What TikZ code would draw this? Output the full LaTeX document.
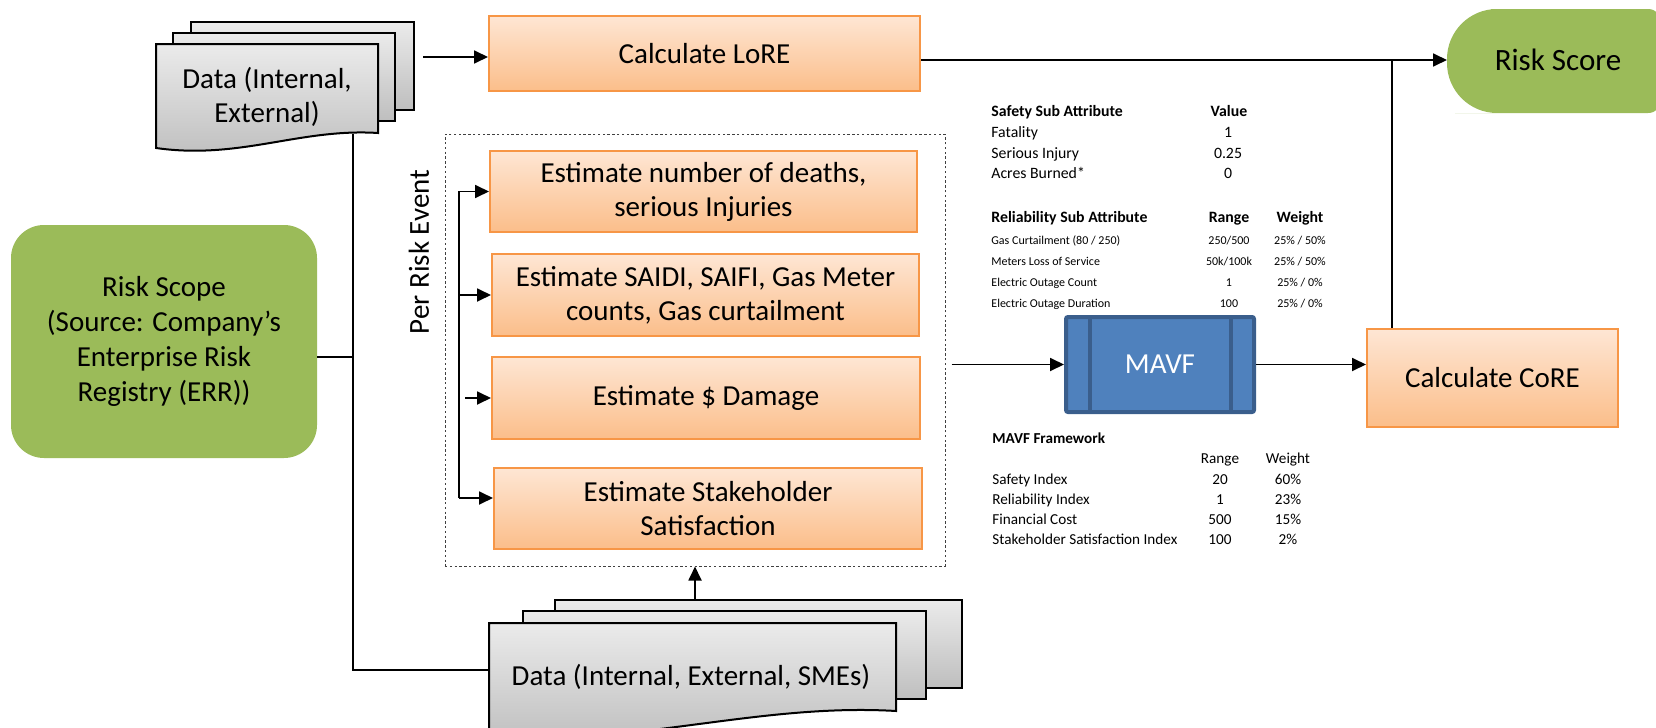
\documentclass[tikz,border=0pt]{standalone}
\usepackage{fontspec}
\setmainfont{Carlito}
\usetikzlibrary{arrows.meta,calc}
\definecolor{grn}{HTML}{9BBB59}
\definecolor{orTop}{HTML}{FEE6D4}
\definecolor{orBot}{HTML}{FBBE8A}
\definecolor{orBd}{HTML}{F79646}
\definecolor{mvFill}{HTML}{4F81BD}
\definecolor{mvBd}{HTML}{3A5E8C}
\definecolor{dcTop}{HTML}{EBEBEB}
\definecolor{dcBot}{HTML}{BEBEBE}
\newcommand\mainfs{\fontsize{14.5}{17}\selectfont}
\newcommand\tabfs{\fontsize{7.9}{9.5}\selectfont}
\newcommand\tinyfs{\fontsize{6}{7}\selectfont}
\newcommand\mavffs{\fontsize{7.6}{9}\selectfont}
\begin{document}
\begin{tikzpicture}[x=0.5pt,y=-0.5pt,
  conn/.style={line width=0.9pt,draw=black},
  arr/.style={conn,-{Triangle[length=7pt,width=6.5pt]}},
  obox/.style={draw=orBd,line width=1pt,top color=orTop,bottom color=orBot,align=center,font=\mainfs,inner sep=0pt},
  gbox/.style={fill=grn,align=center,font=\mainfs,inner sep=0pt},
  doc/.style={draw=black,line width=1pt,top color=dcTop,bottom color=dcBot},
  tab/.style={inner sep=0pt,text height=0.72em,text depth=0.2em},
  lab/.style={tab,anchor=west}]
\useasboundingbox (0,0) rectangle (1656,728);

% ---- top document stack
\draw[doc] (191,22) rectangle (414,110);
\draw[doc] (173,33) rectangle (395,121);
\draw[doc] (156,44) -- (378,44) -- (378,133) .. controls (300,128) and (240,160) .. (156,148) -- cycle;
\node[font=\mainfs,align=center] (d1txt) at (267,97) {Data (Internal,\\External)};
\coordinate (d1out) at (423,57);
\coordinate (d1bot) at (353,134);

% ---- bottom document stack
\draw[doc] (555,600) rectangle (962,688);
\draw[doc] (523,611) rectangle (926,699);
\draw[doc] (489,623) -- (896,623) -- (896,711) .. controls (760,703) and (640,745) .. (489,738) -- cycle;
\node[font=\mainfs] (d2txt) at (691,677) {Data (Internal, External, SMEs)};
\coordinate (d2top) at (695,600);
\coordinate (d2in) at (489,670);

% ---- main nodes
\node[obox,minimum width=215.5pt,minimum height=37.5pt] (lore) at (704.5,53.5) {Calculate LoRE};
\fill[grn,rounded corners=25pt] (1505,9) -- (1447,9) -- (1447,113) -- (1505,113)
  [rounded corners=7pt] -- (1662,113) -- (1662,9) -- cycle;
\node[inner sep=0pt,font=\fontsize{15.5}{18}\selectfont] (risk) at (1558,60) {Risk Score};
\coordinate (riskin) at (1447,60);
\node[gbox,rounded corners=16.5pt,minimum width=153pt,minimum height=116.5pt,font=\fontsize{14.5}{17.5}\selectfont] (scope) at (164,341.5)
  {Risk Scope\\(Source: Company’s\\Enterprise Risk\\Registry (ERR))};

\node[draw=black!75,line width=0.5pt,dash pattern=on 1.2pt off 1.2pt,minimum width=250pt,minimum height=216pt,inner sep=0pt] (evt) at (695,350) {};
\node[font=\mainfs,rotate=90] (per) at (419,252) {Per Risk Event};

\node[obox,minimum width=213.5pt,minimum height=40.5pt] (b1) at (703.5,191.5) {Estimate number of deaths,\\serious Injuries};
\node[obox,minimum width=213.5pt,minimum height=41pt] (b2) at (705.5,295) {Estimate SAIDI, SAIFI, Gas Meter\\counts, Gas curtailment};
\node[obox,minimum width=214pt,minimum height=41pt] (b3) at (706,398) {Estimate \$ Damage};
\node[obox,minimum width=214pt,minimum height=40.5pt] (b4) at (708,508.5) {Estimate Stakeholder\\Satisfaction};

\node[fill=mvFill,draw=mvBd,line width=2pt,rounded corners=1pt,minimum width=94pt,minimum height=47.5pt,inner sep=0pt,
  font=\mainfs,text=white] (mavf) at (1160,364.5) {MAVF};
\draw[mvBd,line width=2pt] ([xshift=13pt]mavf.north west) -- ([xshift=13pt]mavf.south west);
\draw[mvBd,line width=2pt] ([xshift=-12.5pt]mavf.north east) -- ([xshift=-12.5pt]mavf.south east);

\node[obox,minimum width=125.5pt,minimum height=49pt] (core) at (1492.5,378) {Calculate CoRE};

% ---- connectors
\draw[arr] (d1out) -- (d1out -| lore.west);
\draw[arr] (lore.east |- riskin) -- (riskin);
\coordinate (j) at (1392,60);
\draw[conn] (j) -- (j |- core.north);
\draw[conn] (d1bot) -- (d1bot |- d2in) -- (d2in);
\draw[conn] ([yshift=-7.75pt]scope.east) -- ([yshift=-7.75pt]scope.east -| d1bot);
\draw[arr] (d2top) -- (d2top |- evt.south);
\coordinate (bt) at (459,191.5);
\coordinate (bb) at (459,498);
\draw[arr] (bb) -- (bt) -- (b1.west);
\draw[arr] (b2.west -| bt) -- (b2.west);
\draw[arr] ([xshift=-13pt]b3.west) -- (b3.west);
\draw[arr] (bb) -- (bb -| b4.west);
\draw[arr] ([xshift=3pt]evt.east |- mavf.west) -- (mavf.west);
\draw[arr] (mavf.east) -- (mavf.east -| core.west);

% ---- safety table
\node[lab,font=\tabfs\bfseries] (s0) at (991,111) {Safety Sub Attribute};
\node[tab,font=\tabfs\bfseries] (s0v) at (1229,111) {Value};
\node[lab,font=\tabfs] (s1) at (991,132) {Fatality};
\node[tab,font=\tabfs] (s1v) at (1228,132) {1};
\node[lab,font=\tabfs] (s2) at (991,153) {Serious Injury};
\node[tab,font=\tabfs] (s2v) at (1228,153) {0.25};
\node[lab,font=\tabfs] (s3) at (991,173) {Acres Burned*};
\node[tab,font=\tabfs] (s3v) at (1228,173) {0};

% ---- reliability table
\node[lab,font=\tabfs\bfseries] (r0) at (991,217) {Reliability Sub Attribute};
\node[tab,font=\tabfs\bfseries] (r0r) at (1229,217) {Range};
\node[tab,font=\tabfs\bfseries] (r0w) at (1300,217) {Weight};
\node[lab,font=\tinyfs] (r1) at (991,239) {Gas Curtailment (80 / 250)};
\node[tab,font=\tinyfs] (r1r) at (1229,239) {250/500};
\node[tab,font=\tinyfs] (r1w) at (1300,239) {25\% / 50\%};
\node[lab,font=\tinyfs] (r2) at (991,260) {Meters Loss of Service};
\node[tab,font=\tinyfs] (r2r) at (1229,260) {50k/100k};
\node[tab,font=\tinyfs] (r2w) at (1300,260) {25\% / 50\%};
\node[lab,font=\tinyfs] (r3) at (991,281) {Electric Outage Count};
\node[tab,font=\tinyfs] (r3r) at (1229,281) {1};
\node[tab,font=\tinyfs] (r3w) at (1300,281) {25\% / 0\%};
\node[lab,font=\tinyfs] (r4) at (991,302) {Electric Outage Duration};
\node[tab,font=\tinyfs] (r4r) at (1229,302) {100};
\node[tab,font=\tinyfs] (r4w) at (1300,302) {25\% / 0\%};

% ---- MAVF framework table
\node[lab,font=\mavffs\bfseries] (m0) at (992,438) {MAVF Framework};
\node[tab,font=\mavffs] (m0r) at (1220,458) {Range};
\node[tab,font=\mavffs] (m0w) at (1288,458) {Weight};
\node[lab,font=\mavffs] (m1) at (992,479) {Safety Index};
\node[tab,font=\mavffs] (m1r) at (1220,479) {20};
\node[tab,font=\mavffs] (m1w) at (1288,479) {60\%};
\node[lab,font=\mavffs] (m2) at (992,499) {Reliability Index};
\node[tab,font=\mavffs] (m2r) at (1220,499) {1};
\node[tab,font=\mavffs] (m2w) at (1288,499) {23\%};
\node[lab,font=\mavffs] (m3) at (992,519) {Financial Cost};
\node[tab,font=\mavffs] (m3r) at (1220,519) {500};
\node[tab,font=\mavffs] (m3w) at (1288,519) {15\%};
\node[lab,font=\mavffs] (m4) at (992,539) {Stakeholder Satisfaction Index};
\node[tab,font=\mavffs] (m4r) at (1220,539) {100};
\node[tab,font=\mavffs] (m4w) at (1288,539) {2\%};
\end{tikzpicture}
\end{document}
